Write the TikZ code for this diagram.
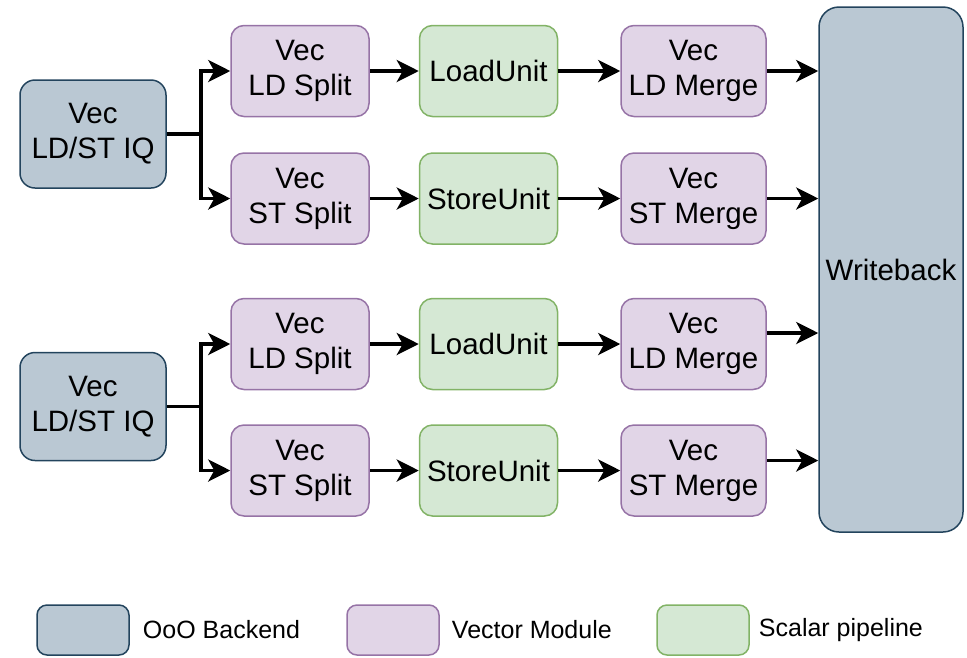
\documentclass[tikz,border=0pt]{standalone}
\usepackage{fontspec}
\setmainfont{Liberation Sans}
\usetikzlibrary{arrows.meta,positioning}
\definecolor{bkfill}{HTML}{BAC8D3}
\definecolor{bkdraw}{HTML}{23445D}
\definecolor{vmfill}{HTML}{E1D5E7}
\definecolor{vmdraw}{HTML}{9673A6}
\definecolor{scfill}{HTML}{D5E8D4}
\definecolor{scdraw}{HTML}{82B366}
\tikzset{
    %Define standard arrow tip
    >={Stealth[length=22pt,width=22pt,inset=6pt]},
    box/.style={
      rectangle,
      rounded corners=13pt,
      line width=1.5pt,
      align=center,
      inner sep=0pt,
      font=\fontsize{29.5}{35}\selectfont},
    backend/.style={
      box,
      fill=bkfill, draw=bkdraw},
    vecmod/.style={
      box,
      fill=vmfill, draw=vmdraw,
      minimum width=138pt,
      minimum height=91pt},
    scalar/.style={
      box,
      fill=scfill, draw=scdraw,
      minimum width=138pt,
      minimum height=91pt},
    flow/.style={->, line width=3.5pt},
    legend/.style={
      inner sep=0pt,
      anchor=west,
      font=\fontsize{25}{30}\selectfont}
}

\begin{document}
\begin{tikzpicture}[x=1pt,y=-1pt]
\useasboundingbox (0,0) rectangle (967,657);

% issue queues
\node [backend, minimum width=146pt, minimum height=108pt, rounded corners=15pt] (iqA) at (93,134) {Vec\\LD/ST IQ};
\node [backend, minimum width=146pt, minimum height=108pt, rounded corners=15pt] (iqB) at (93,406.5) {Vec\\LD/ST IQ};

% first pair
\node [vecmod] (ldsA) at (300,71) {Vec\\LD Split};
\node [vecmod, below=35pt of ldsA] (stsA) {Vec\\ST Split};
\node [scalar, right=49pt of ldsA] (luA) {LoadUnit};
\node [scalar, right=49pt of stsA] (suA) {StoreUnit};
\node [vecmod, minimum width=145pt, right=62pt of luA] (ldmA) {Vec\\LD Merge};
\node [vecmod, minimum width=145pt, right=62pt of suA] (stmA) {Vec\\ST Merge};

% second pair
\node [vecmod] (ldsB) at (300,344) {Vec\\LD Split};
\node [vecmod, below=34pt of ldsB] (stsB) {Vec\\ST Split};
\node [scalar, right=49pt of ldsB] (luB) {LoadUnit};
\node [scalar, right=49pt of stsB] (suB) {StoreUnit};
\node [vecmod, minimum width=145pt, right=62pt of luB] (ldmB) {Vec\\LD Merge};
\node [vecmod, minimum width=145pt, right=62pt of suB] (stmB) {Vec\\ST Merge};

\node [backend, minimum width=144pt, minimum height=525pt, rounded corners=20pt] (wb) at (891,269.5) {Writeback};

% connections
\coordinate [right=34pt of iqA.east] (forkA);
\coordinate [right=34pt of iqB.east] (forkB);
\draw [line width=3.5pt] (iqA.east) -- (forkA);
\draw [line width=3.5pt] (iqB.east) -- (forkB);
\draw [flow] (forkA) |- (ldsA.west);
\draw [flow] (forkA) |- (stsA.west);
\draw [flow] (forkB) |- (ldsB.west);
\draw [flow] (forkB) |- (stsB.west);
\foreach \r in {A,B} {
  \draw [flow] (lds\r) -- (lu\r);
  \draw [flow] (sts\r) -- (su\r);
  \draw [flow] (lu\r) -- (ldm\r);
  \draw [flow] (su\r) -- (stm\r);
}
\draw [flow] (ldmA.east) -- (ldmA.east -| wb.west);
\draw [flow] (stmA.east) -- (stmA.east -| wb.west);
\draw [flow] ([yshift=11pt]ldmB.east) -- ([yshift=11pt]ldmB.east -| wb.west);
\draw [flow] ([yshift=10pt]stmB.east) -- ([yshift=10pt]stmB.east -| wb.west);

% legend
\node [backend, minimum width=92pt, minimum height=50pt, rounded corners=10pt] (legbk) at (83,630) {};
\node [vecmod, minimum width=92pt, minimum height=50pt, rounded corners=10pt] (legvm) at (393,630) {};
\node [scalar, minimum width=92pt, minimum height=50pt, rounded corners=10pt] (legsc) at (703,630) {};
\node [legend, right=13pt of legbk] (txtbk) {OoO Backend};
\node [legend, right=12pt of legvm] (txtvm) {Vector Module};
\node [legend, right=9pt of legsc] (txtsc) {Scalar pipeline};
\end{tikzpicture}
\end{document}
